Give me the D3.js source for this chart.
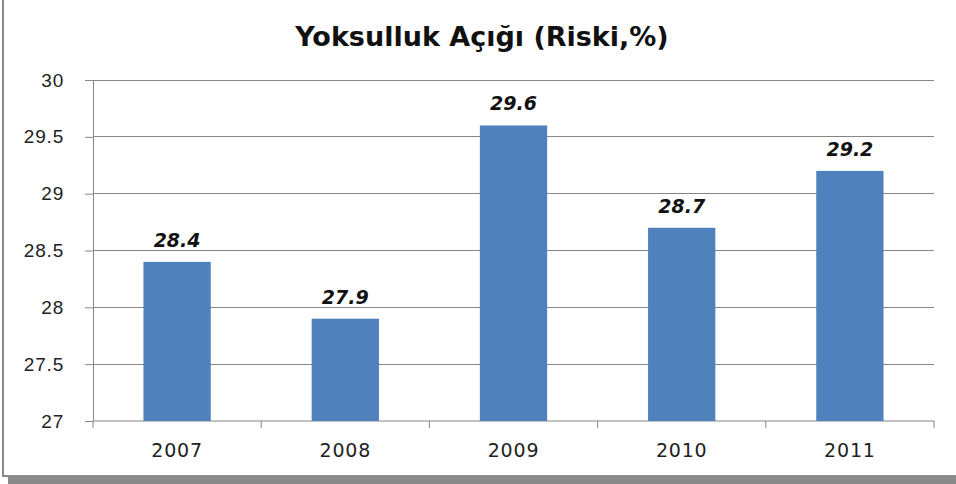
<!DOCTYPE html>
<html>
<head>
<meta charset="utf-8">
<script src="https://cdn.jsdelivr.net/npm/d3@7"></script>
<style>
  body { margin: 0; background: #fff; }
  svg { display: block; font-family: "DejaVu Sans", Verdana, sans-serif; }
</style>
</head>
<body>
<svg id="chart" width="956" height="484"></svg>
<script>
// chart data
const years = ["2007", "2008", "2009", "2010", "2011"];
const values = [28.4, 27.9, 29.6, 28.7, 29.2];
const yTicks = [27, 27.5, 28, 28.5, 29, 29.5, 30];
const title = "Yoksulluk Açığı (Riski,%)";

const svg = d3.select("#chart");
const plot = { left: 93, right: 934, top: 80, bottom: 421 };

// frame + shadow
svg.append("rect").attr("x", 8).attr("y", 477).attr("width", 948).attr("height", 7).attr("fill", "#8a8a8a");
svg.append("rect").attr("x", 3).attr("y", -2).attr("width", 960).attr("height", 478)
  .attr("fill", "#fff").attr("stroke", "#8a8a8a").attr("stroke-width", 2);

const x = d3.scaleBand().domain(years).range([plot.left, plot.right]).paddingInner(0.6).paddingOuter(0.3);
const y = d3.scaleLinear().domain([27, 30]).range([plot.bottom, plot.top]);

// gridlines
svg.append("g").selectAll("line").data(yTicks.filter(d => d !== 27)).join("line")
  .attr("x1", plot.left).attr("x2", plot.right)
  .attr("y1", d => y(d)).attr("y2", d => y(d))
  .attr("stroke", "#868686").attr("stroke-width", 1).attr("shape-rendering", "crispEdges");

// y axis
const yAxis = svg.append("g").attr("transform", `translate(${plot.left},0)`)
  .call(d3.axisLeft(y).tickValues(yTicks).tickSize(8).tickPadding(21).tickFormat(d3.format("")));
yAxis.select(".domain").attr("stroke", "#868686");
yAxis.selectAll(".tick line").attr("stroke", "#868686");
yAxis.selectAll("text").attr("font-size", 19).attr("letter-spacing", 0.8).attr("fill", "#222");

// x axis: ticks at category boundaries
const xAxis = svg.append("g").attr("transform", `translate(0,${plot.bottom})`);
xAxis.append("line").attr("x1", plot.left).attr("x2", plot.right).attr("stroke", "#868686");
xAxis.selectAll(".bound").data(d3.range(years.length + 1)).join("line")
  .attr("class", "bound")
  .attr("x1", i => plot.left + i * (plot.right - plot.left) / years.length)
  .attr("x2", i => plot.left + i * (plot.right - plot.left) / years.length)
  .attr("y1", 0).attr("y2", 7).attr("stroke", "#868686");
xAxis.selectAll("text").data(years).join("text")
  .attr("x", d => x(d) + x.bandwidth() / 2).attr("y", 36)
  .attr("text-anchor", "middle").attr("font-size", 19).attr("letter-spacing", 0.8).attr("fill", "#222")
  .text(d => d);

// bars
svg.append("g").selectAll("rect").data(years).join("rect")
  .attr("x", d => x(d)).attr("width", x.bandwidth())
  .attr("y", (d, i) => y(values[i])).attr("height", (d, i) => y(27) - y(values[i]))
  .attr("fill", "#4f81bd");

// value labels
svg.append("g").selectAll("text").data(years).join("text")
  .attr("x", d => x(d) + x.bandwidth() / 2)
  .attr("y", (d, i) => y(values[i]) - 15)
  .attr("text-anchor", "middle").attr("font-size", 19)
  .attr("font-weight", "bold").attr("font-style", "italic").attr("fill", "#111")
  .text((d, i) => values[i]);

// title
svg.append("text").attr("x", 482).attr("y", 46).attr("text-anchor", "middle")
  .attr("font-size", 27).attr("font-weight", "bold").attr("fill", "#111")
  .text(title);
</script>
</body>
</html>
